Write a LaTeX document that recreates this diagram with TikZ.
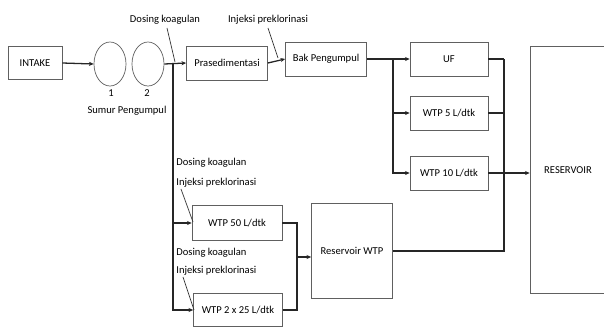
\documentclass[tikz,border=0pt]{standalone}
\usepackage{fontspec}
\setmainfont{Carlito}
\usetikzlibrary{arrows.meta}
\usetikzlibrary{shapes.geometric}
\usetikzlibrary{positioning}

\begin{document}
\begin{tikzpicture}[
    x=0.03cm, y=-0.03cm,
    unit/.style={rectangle, draw=gray!75!black, line width=0.6pt, inner sep=0pt,
                 minimum width=2.43cm, minimum height=1.02cm, font=\fontsize{9}{10}\selectfont},
    well/.style={ellipse, draw=gray!75!black, line width=0.6pt, inner sep=0pt,
                 minimum width=0.96cm, minimum height=1.32cm},
    note/.style={inner sep=1pt, font=\fontsize{9}{10}\selectfont},
    flow/.style={line width=1.1pt, black!85},
    hint/.style={line width=0.6pt, black!80},
    >={Stealth[length=4pt, width=3.5pt]}
]
\useasboundingbox (0,0) rectangle (604,331);

% --- Intake and wells ---
\node[unit, minimum width=1.62cm, minimum height=0.99cm] (intake) at (35,63) {INTAKE};
\node[well] (well1) at (110,64) {};
\node[well] (well2) at (148,64) {};
\node[note] (n1) at (111,93) {1};
\node[note] (n2) at (147,93) {2};
\node[note] (sumur) at (127,111) {Sumur Pengumpul};

% --- Pretreatment ---
\node[unit] (prased) at (227,63) {Prasedimentasi};
\node[unit] (bak) at (326,59) {Bak Pengumpul};
\node[note] (dose1) at (165,20) {Dosing koagulan};
\node[note] (inj1) at (268,20) {Injeksi preklorinasi};

% --- Treatment units ---
\node[unit, minimum width=2.34cm] (uf) at (449,59) {UF};
\node[unit, minimum width=2.34cm] (wtp5) at (449,113) {WTP 5 L/dtk};
\node[unit, minimum width=2.34cm] (wtp10) at (449,173) {WTP 10 L/dtk};
\node[unit, minimum width=2.7cm, minimum height=1.05cm] (wtp50) at (237,223) {WTP 50 L/dtk};
\node[unit, minimum width=2.67cm, minimum height=0.99cm] (wtp25) at (238,310) {WTP 2 x 25 L/dtk};
\node[unit, minimum height=2.85cm] (reswtp) at (352,251) {Reservoir WTP};
\node[unit, minimum width=2.28cm, minimum height=7.41cm] (res) at (568,170) {RESERVOIR};

% --- Dosing notes, lower units ---
\node[note, anchor=west] (dose2) at (175,163) {Dosing koagulan};
\node[note, anchor=west] (inj2) at (175,183) {Injeksi preklorinasi};
\node[note, anchor=west] (dose3) at (175,253) {Dosing koagulan};
\node[note, anchor=west] (inj3) at (175,271) {Injeksi preklorinasi};

% --- Junctions ---
\coordinate (j1) at (173,63);
\coordinate (j2) at (393,59);
\coordinate (j3) at (504,59);
\coordinate (j4) at (297,223);
\coordinate (j5) at (297,257);

% --- Main line ---
\draw[flow, ->] (intake.east) -- (well1.west);
\draw[flow, ->] (well2.east) -- (prased.west);
\draw[flow, ->] (prased.east) -- (bak.west);
\draw[flow] (bak.east) -- (j2);

% --- Branch to lower units ---
\draw[flow, ->] (j1) |- (wtp50.west);
\draw[flow, ->] (j1) |- (wtp25.west);

% --- Branch to UF and WTP ---
\foreach \u in {uf,wtp5,wtp10}
{
    \draw[flow, ->] (j2) |- (\u.west);
}
\draw[flow] (uf.east) -- (j3);
\draw[flow] (wtp5.east) -- (wtp5.east -| j3);
\draw[flow] (j3) |- (reswtp.east);
\draw[flow, ->] (wtp10.east) -- (wtp10.east -| res.west);

% --- Lower units to Reservoir WTP ---
\draw[flow] (wtp50.east) -- (j4) |- (wtp25.east);
\draw[flow, ->] (j5) -- (j5 -| reswtp.west);

% --- Pointers from notes ---
\draw[hint] (dose1.south) ++(2,2) -- (175,62);
\draw[hint] (inj1.south) ++(0,2) -- (278,58);
\draw[hint] (inj2.south west) ++(6,0) -- (193,222);
\draw[hint] (inj3.south west) ++(8,0) -- (194,310);

\end{tikzpicture}
\end{document}
